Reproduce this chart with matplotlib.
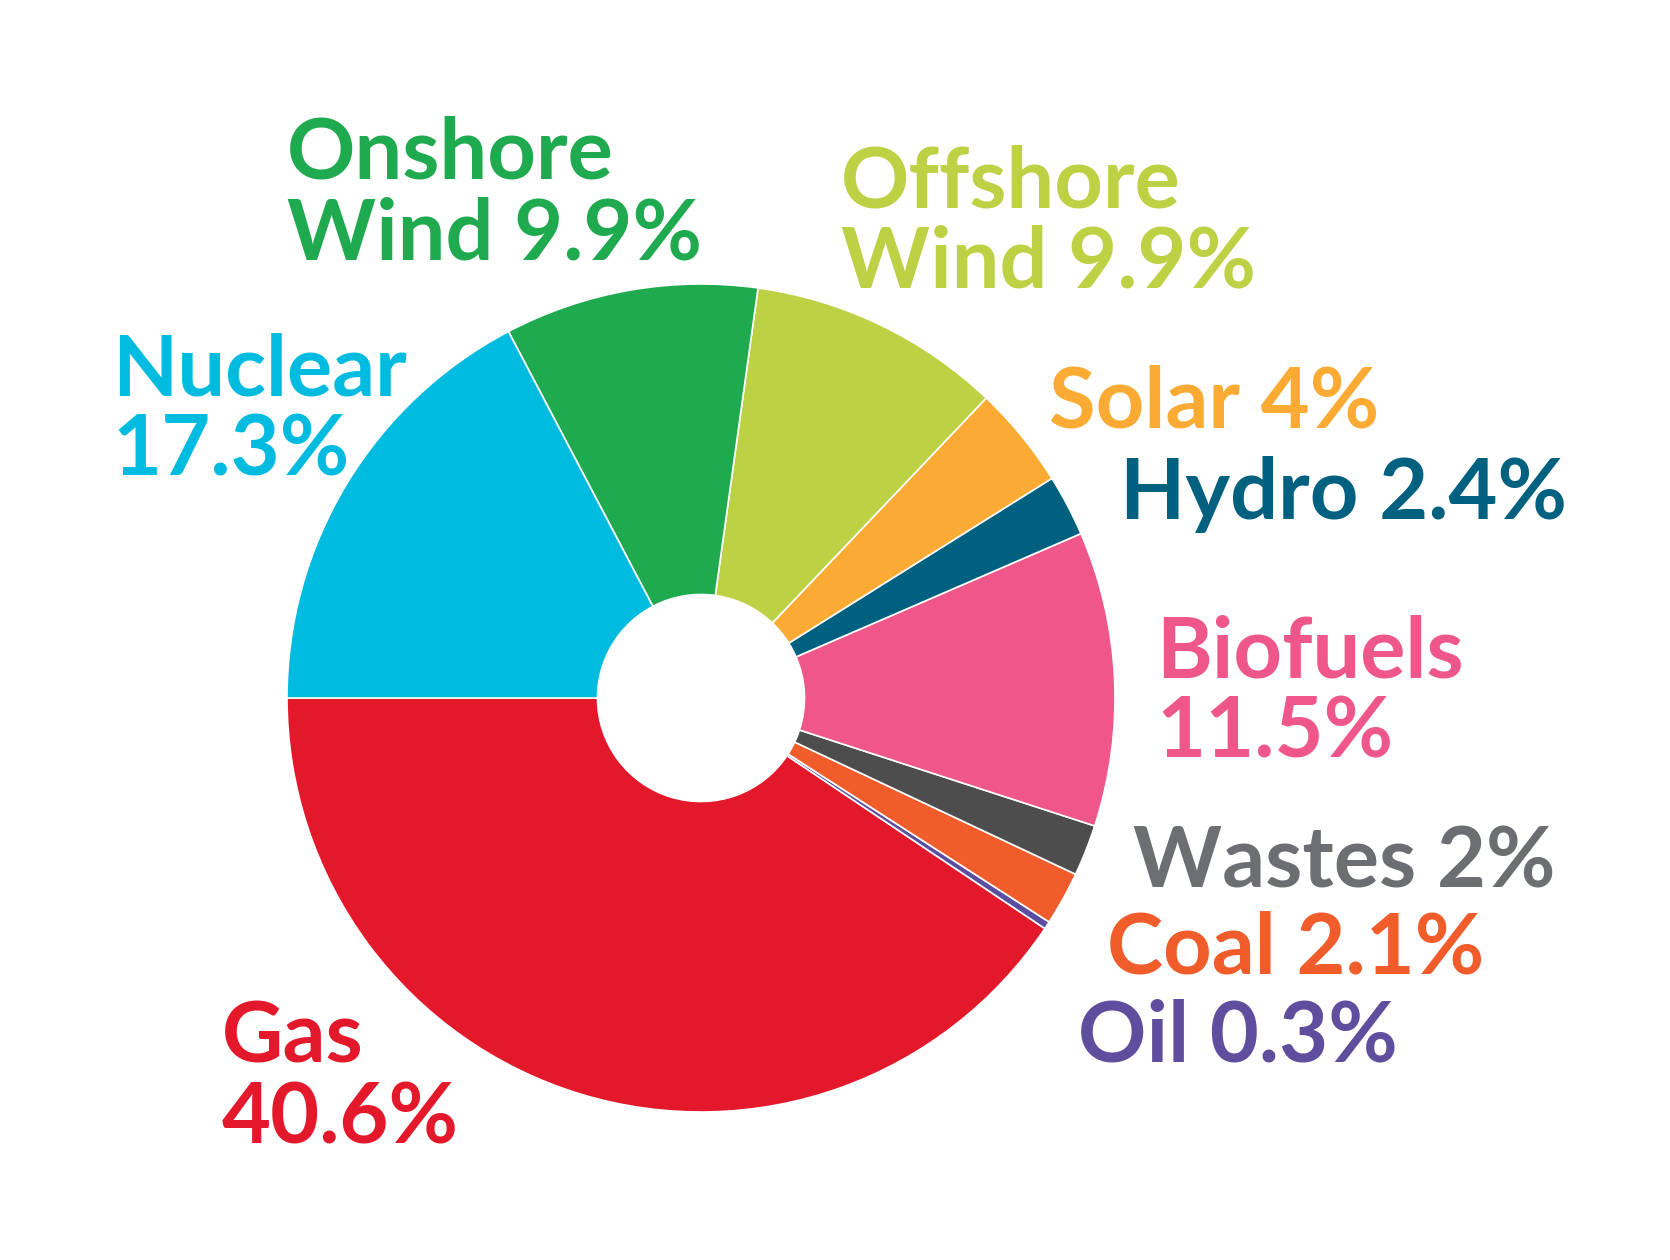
import matplotlib
matplotlib.use("Agg")
import matplotlib.pyplot as plt

labels = ["Gas", "Oil", "Coal", "Wastes", "Biofuels", "Hydro", "Solar",
          "Offshore\nWind", "Onshore\nWind", "Nuclear"]
values = [40.6, 0.3, 2.1, 2.0, 11.5, 2.4, 4.0, 9.9, 9.9, 17.3]
value_text = ["40.6%", "0.3%", "2.1%", "2%", "11.5%", "2.4%", "4%",
              "9.9%", "9.9%", "17.3%"]
wedge_colors = ["#E3182B", "#5B4EA0", "#F15C2B", "#4D4D4D", "#EF578A",
                "#006080", "#FBAA33", "#BDD145", "#1FAA4F", "#00BBE0"]
label_colors = ["#E3182B", "#5F4E9E", "#F15C2B", "#6D6E71", "#EF578A",
                "#006080", "#FBAA33", "#BDD145", "#1FAA4F", "#00BBE0"]

W, H = 1670, 1260
fig = plt.figure(figsize=(W / 100, H / 100), dpi=100)
ax = fig.add_axes([0, 0, 1, 1])
ax.set_xlim(0, W)
ax.set_ylim(0, H)
ax.set_aspect("equal")
ax.axis("off")

R = 414
cx, cy = 701, H - 698
ax.pie(values, colors=wedge_colors, startangle=180, counterclock=True,
       radius=R, center=(cx, cy), frame=False,
       wedgeprops=dict(width=R * 0.75, edgecolor="white", linewidth=1.2))
ax.set_xlim(0, W)
ax.set_ylim(0, H)

# label layout: (x_left, last-line baseline in pixels from top, split mode)
layout = {
    "Gas": (222, 1143, True),
    "Oil": (1078, 1062, False),
    "Coal": (1107, 973, False),
    "Wastes": (1133, 888, False),
    "Biofuels": (1156, 758, True),
    "Hydro": (1120, 519, False),
    "Solar": (1049, 428, False),
    "Offshore\nWind": (841, 288, None),
    "Onshore\nWind": (287, 259, None),
    "Nuclear": (112, 476, True),
}

FS = 61
for lab, vt, col in zip(labels, value_text, label_colors):
    x, yb, split = layout[lab]
    if split:
        txt = lab + "\n" + vt
    else:
        txt = lab + " " + vt
    ax.text(x, H - yb, txt, color=col, fontsize=FS, fontfamily="Lato",
            fontweight="bold", ha="left", va="baseline", linespacing=1.06)

fig.savefig("out.png", dpi=100, facecolor="white")
